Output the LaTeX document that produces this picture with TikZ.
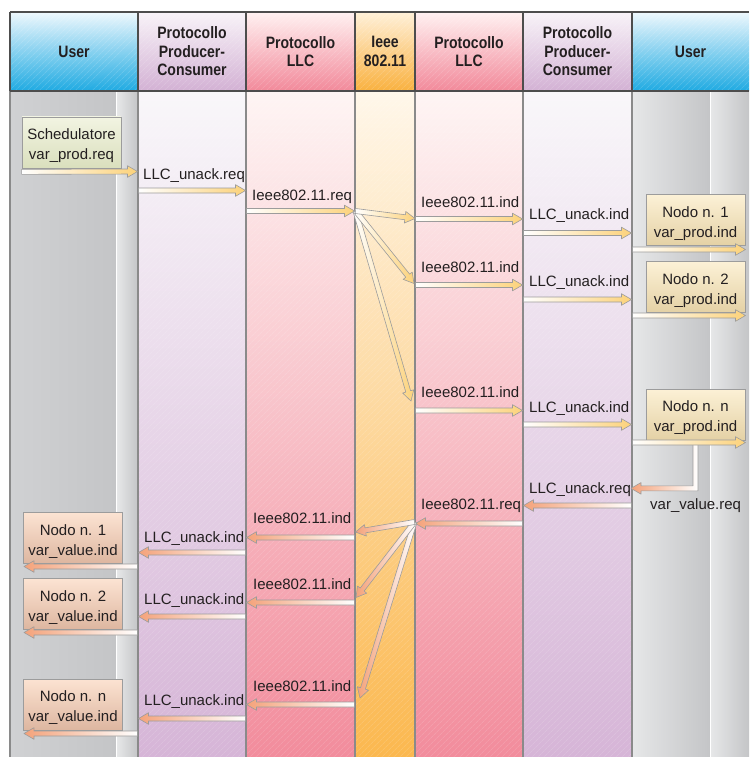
\documentclass[tikz,border=0pt]{standalone}
\usepackage{fontspec}
\setmainfont{Liberation Sans}
\newfontfamily\headfont[FakeStretch=0.85]{Liberation Sans}
\usepackage{tikz}
\usetikzlibrary{calc, patterns.meta}

\definecolor{ink}{HTML}{231F20}
\definecolor{linec}{HTML}{4D4D4D}
\definecolor{sepc}{HTML}{8A8A8A}
\definecolor{userA}{HTML}{EEF8FD}
\definecolor{userB}{HTML}{1FAAE2}
\definecolor{pcA}{HTML}{F8F3F8}
\definecolor{pcB}{HTML}{D3B1D4}
\definecolor{llcA}{HTML}{FFF1F1}
\definecolor{llcB}{HTML}{F2899A}
\definecolor{ieeeA}{HTML}{FFF0D8}
\definecolor{ieeeB}{HTML}{F9B13F}
\definecolor{pcT}{HTML}{F9F7FA}
\definecolor{pcD}{HTML}{D6B5D7}
\definecolor{llcT}{HTML}{FEF5F4}
\definecolor{llcD}{HTML}{F28C9C}
\definecolor{ieeeT}{HTML}{FFF7EA}
\definecolor{ieeeD}{HTML}{FBB84F}
\definecolor{greyA}{HTML}{D0D1D3}
\definecolor{greyB}{HTML}{F8F8F8}
\definecolor{greyC}{HTML}{C4C5C7}
\definecolor{greyD}{HTML}{E6E7E8}
\definecolor{arrY}{HTML}{FCD27A}
\definecolor{arrO}{HTML}{F4A27A}
\definecolor{arrline}{HTML}{9C9C9C}
\definecolor{schedA}{HTML}{F2F4E2}
\definecolor{schedB}{HTML}{DADFBD}
\definecolor{prodA}{HTML}{FCF1D6}
\definecolor{prodB}{HTML}{E4D1A5}
\definecolor{valA}{HTML}{FCE3D2}
\definecolor{valB}{HTML}{DDB6A0}

% testo su due righe nei riquadri
\newcommand{\duerighe}[2]{\raisebox{-3pt}[\height][\depth]{\begin{tabular}{@{}c@{}}#1\\#2\end{tabular}}}

\tikzset{
  fat/.style={to path={
      ($(\tikztostart)!2.5pt!90:(\tikztotarget)$)
      -- ($(\tikztotarget)!10pt!(\tikztostart)!2.5pt!-90:(\tikztostart)$)
      -- ($(\tikztotarget)!10pt!(\tikztostart)!5.8pt!-90:(\tikztostart)$)
      -- (\tikztotarget)
      -- ($(\tikztotarget)!10pt!(\tikztostart)!5.8pt!90:(\tikztostart)$)
      -- ($(\tikztotarget)!10pt!(\tikztostart)!2.5pt!90:(\tikztostart)$)
      -- ($(\tikztostart)!2.5pt!-90:(\tikztotarget)$)
      -- cycle}},
  fwd/.style={fat, draw=arrline, line width=.6pt, line join=round, left color=white, right color=arrY},
  bwd/.style={fat, draw=arrline, line width=.6pt, line join=round, left color=arrO, right color=white},
  hatch/.style={pattern={Lines[angle=45,distance=4pt,line width=.5pt]}, pattern color=white}
}

\begin{document}
\begin{tikzpicture}[x=1pt, y=-1pt]
\useasboundingbox (0,0) rectangle (749,757);
\fill[white] (0,0) rectangle (749,757);

% colonne
\shade[left color=greyA, middle color=greyB, right color=greyC] (10,91) rectangle (116,757);
\shade[left color=greyD, right color=greyC] (117,91) rectangle (138,757);
\shade[top color=pcT, bottom color=pcD] (138,91) rectangle (246,757);
\shade[top color=llcT, bottom color=llcD] (246,91) rectangle (355,757);
\shade[top color=ieeeT, bottom color=ieeeD] (355,91) rectangle (415,757);
\shade[top color=llcT, bottom color=llcD] (415,91) rectangle (523,757);
\shade[top color=pcT, bottom color=pcD] (523,91) rectangle (632,757);
\shade[left color=greyD, middle color=greyB, right color=greyC] (632,91) rectangle (710,757);
\shade[left color=greyD, right color=greyC] (711,91) rectangle (749,757);
\fill[hatch, fill opacity=.2] (138,91) rectangle (632,757);
\draw[white, line width=1.2pt] (116.5,91) -- (116.5,757) (710.5,91) -- (710.5,757);

\begin{scope}[every node/.style={inner sep=0, minimum height=79, align=center, text=ink,
    font=\headfont\bfseries\fontsize{16.5}{18.5}\selectfont, shading angle=45,
    postaction={hatch, fill opacity=.22}}]
  \node[minimum width=128, top color=userA, bottom color=userB] (hu1) at (74,51.5) {User};
  \node[minimum width=108, top color=pcA, bottom color=pcB] (hpc1) at (192,51.5) {Protocollo\\Producer-\\Consumer};
  \node[minimum width=109, top color=llcA, bottom color=llcB] (hllc1) at (300.5,51.5) {Protocollo\\LLC};
  \node[minimum width=60, top color=ieeeA, bottom color=ieeeB] (hieee) at (385,51.5) {Ieee\\802.11};
  \node[minimum width=108, top color=llcA, bottom color=llcB] (hllc2) at (469,51.5) {Protocollo\\LLC};
  \node[minimum width=109, top color=pcA, bottom color=pcB] (hpc2) at (577.5,51.5) {Protocollo\\Producer-\\Consumer};
  \node[minimum width=117, top color=userA, bottom color=userB] (hu2) at (690.5,51.5) {User};
\end{scope}

\draw[sepc, line width=1.2pt] \foreach \x in {10,138,246,355,415,523,632} {(\x,91) -- (\x,757)};
\draw[linec, line width=1.5pt] (10,12) -- (749,12) (10,91) -- (749,91)
  \foreach \x in {10,138,246,355,415,523,632} {(\x,12) -- (\x,91)};

% riquadri
\begin{scope}[every node/.style={draw=arrline, line width=.7pt, inner sep=0, minimum width=99,
    minimum height=51, text=ink, shading angle=45, font=\fontsize{15}{20}\selectfont}]
  \node[top color=schedA, bottom color=schedB] (sched) at (71.5,142.5) {\duerighe{Schedulatore}{var\_prod.req}};
  \node[top color=prodA, bottom color=prodB] (pr1) at (695.5,220) {\duerighe{Nodo n. 1}{var\_prod.ind}};
  \node[top color=prodA, bottom color=prodB] (pr2) at (695.5,287) {\duerighe{Nodo n. 2}{var\_prod.ind}};
  \node[top color=prodA, bottom color=prodB] (prn) at (695.5,414.5) {\duerighe{Nodo n. n}{var\_prod.ind}};
  \node[top color=valA, bottom color=valB] (va1) at (73,538) {\duerighe{Nodo n. 1}{var\_value.ind}};
  \node[top color=valA, bottom color=valB] (va2) at (73,604) {\duerighe{Nodo n. 2}{var\_value.ind}};
  \node[top color=valA, bottom color=valB] (van) at (73,704.5) {\duerighe{Nodo n. n}{var\_value.ind}};
\end{scope}

% andata
\draw[bwd] ([xshift=-2.5pt]prn.south) -- ++(0,45.5) -- ++(-52,0) -- ++(0,-3.3) -- ++(-10,5.8)
  -- ++(10,5.8) -- ++(0,-3.3) -- ++(57,0) -- ++(0,-50.5) -- cycle;
\coordinate (a0) at (137.5,171.5);
\draw[fwd] ([yshift=-3.5pt]sched.south west) to (a0);
\coordinate (a1s) at (138.5,190.5); \coordinate (a1e) at (245.5,190.5);
\coordinate (a2s) at (246.5,211);   \coordinate (a2e) at (354.5,211);
\draw[fwd] (a1s) to (a1e);
\draw[fwd] (a2s) to (a2e);
\coordinate (fan1) at (355.5,211);
\coordinate (fi1) at (415,218.5);
\coordinate (fi2) at (414,283.5);
\coordinate (fi3) at (411,401);
\draw[fwd] (fan1) to (fi3);
\draw[fwd] (fan1) to (fi2);
\draw[fwd] (fan1) to (fi1);
\foreach \y [count=\n] in {219,285,410.5} {
  \coordinate (bs\n) at (415.5,\y); \coordinate (be\n) at (522.5,\y);
  \draw[fwd] (bs\n) to (be\n);
}
\foreach \y [count=\n] in {233,299.5,424.5} {
  \coordinate (cs\n) at (523.5,\y); \coordinate (ce\n) at (631.5,\y);
  \draw[fwd] (cs\n) to (ce\n);
}
\foreach \y [count=\n] in {249.5,315.5,442.5} {
  \coordinate (ds\n) at (632.5,\y); \coordinate (de\n) at (745.5,\y);
  \draw[fwd] (ds\n) to (de\n);
}

% ritorno
\coordinate (e1s) at (631.5,505.5); \coordinate (e1e) at (523.5,505.5);
\coordinate (e2s) at (522.5,523.5); \coordinate (e2e) at (415.5,523.5);
\draw[bwd] (e1s) to (e1e);
\draw[bwd] (e2s) to (e2e);
\coordinate (fan2) at (414.5,522);
\coordinate (gi1) at (355.5,532);
\coordinate (gi2) at (356,597.5);
\coordinate (gi3) at (360,698);
\draw[bwd] (fan2) to (gi3);
\draw[bwd] (fan2) to (gi2);
\draw[bwd] (fan2) to (gi1);
\foreach \y [count=\n] in {537.5,602.5,704.5} {
  \coordinate (hs\n) at (354.5,\y); \coordinate (he\n) at (246.5,\y);
  \draw[bwd] (hs\n) to (he\n);
}
\foreach \y [count=\n] in {552.5,616.5,718.5} {
  \coordinate (js\n) at (245.5,\y); \coordinate (je\n) at (138.5,\y);
  \draw[bwd] (js\n) to (je\n);
}
\foreach \y [count=\n] in {566.5,632.5,733.5} {
  \coordinate (ks\n) at (137.5,\y); \coordinate (ke\n) at (24,\y);
  \draw[bwd] (ks\n) to (ke\n);
}

% etichette
\begin{scope}[every node/.style={anchor=base west, inner sep=0, text=ink, font=\fontsize{15}{20}\selectfont}]
  \node (l1) at (143,179) {LLC\_unack.req};
  \node (l2) at (252,200) {Ieee802.11.req};
  \node (l3) at (421,207) {Ieee802.11.ind};
  \node (l4) at (421,272) {Ieee802.11.ind};
  \node (l5) at (421,397) {Ieee802.11.ind};
  \node (l6) at (529,219) {LLC\_unack.ind};
  \node (l7) at (529,286) {LLC\_unack.ind};
  \node (l8) at (529,412) {LLC\_unack.ind};
  \node (l9) at (529,493) {LLC\_unack.req};
  \node (l10) at (650,509) {var\_value.req};
  \node (l11) at (421,509) {Ieee802.11.req};
  \node (l12) at (253,523) {Ieee802.11.ind};
  \node (l13) at (253,589) {Ieee802.11.ind};
  \node (l14) at (253,691) {Ieee802.11.ind};
  \node (l15) at (144,542) {LLC\_unack.ind};
  \node (l16) at (144,604) {LLC\_unack.ind};
  \node (l17) at (144,705) {LLC\_unack.ind};
\end{scope}
\end{tikzpicture}
\end{document}
